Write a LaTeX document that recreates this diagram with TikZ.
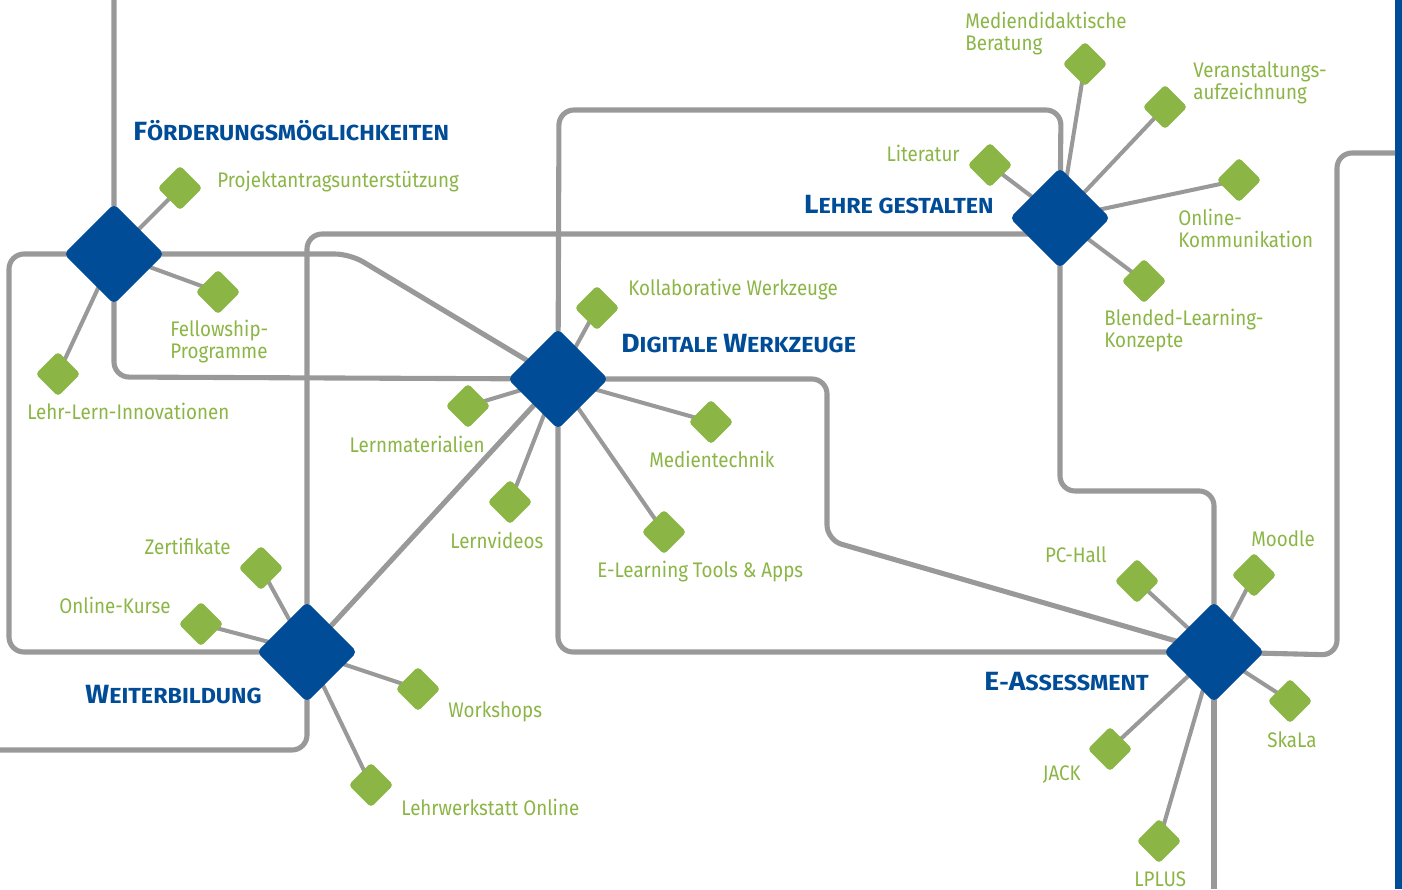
\documentclass[tikz,border=0pt]{standalone}
\usepackage{fontspec}
\setmainfont[FakeStretch=0.89]{Fira Sans}
\newfontfamily\ttlfamily[FakeStretch=1.07]{Fira Sans}
\usepackage{tikz}
\usetikzlibrary{positioning}
\definecolor{dblue}{RGB}{0, 76, 151}
\definecolor{lgreen}{RGB}{139, 181, 69}
\definecolor{lgray}{RGB}{153, 153, 153}
\tikzset{hub/.style = {fill = dblue, rectangle, rotate = 45, inner sep = 0,
                       minimum size = 1.42cm, rounded corners = 3pt}}
\tikzset{leaf/.style = {fill = lgreen, rectangle, rotate = 45, inner sep = 0,
                        minimum size = 0.63cm, rounded corners = 2pt}}
\tikzset{route/.style = {draw = lgray, line width = 2.9pt, rounded corners = 0.3cm}}
\tikzset{spoke/.style = {draw = lgray, line width = 2.3pt}}
\tikzset{lbl/.style = {text = lgreen, inner sep = 0, align = left,
                       font = \fontsize{12}{12}\selectfont}}
\tikzset{ttl/.style = {text = dblue, inner sep = 0,
                       font = \ttlfamily\bfseries\fontsize{12.4}{12.4}\selectfont}}
\newcommand{\bigc}[1]{{\fontsize{15}{15}\selectfont #1}}

\begin{document}
\begin{tikzpicture}[x = 0.02cm, y = -0.02cm]
    \useasboundingbox (0, 0) rectangle (1402, 889);
    \fill [dblue] (1395, 0) rectangle (1402, 889);

    % hubs and leaves (placed first, drawn over the lines below)
    \path (114, 254) coordinate (foerd)
          (558, 379) coordinate (digi)
          (1060, 218) coordinate (lehre)
          (307, 652) coordinate (weiter)
          (1214, 652) coordinate (eass);

    \draw [route] (114, 0) -- (foerd) -- (114, 377) -- (digi) -- (827, 379) -- (827, 540) -- (eass);
    \draw [route] (foerd) -- (9, 254) -- (9, 652) -- (weiter);
    \draw [route] (foerd) -- (350, 254) -- (digi);
    \draw [route] (0, 750) -- (307, 750) -- (weiter) -- (307, 234) -- (1060, 234)
                  -- (1060, 491) -- (1214, 491) -- (eass);
    \draw [route] (digi) -- (559, 110) -- (1061, 110) -- (lehre);
    \draw [route] (digi) -- (558, 652) -- (eass);
    \draw [route] (eass) -- (1337, 655) -- (1337, 153) -- (1395, 153);
    \draw [route] (eass) -- (1214, 889);
    \draw [route] (digi) -- (weiter);

    \foreach \name/\x/\y/\hub in {projekt/180/188/foerd, fellow/218/292/foerd, innov/58/374/foerd,
                                  kollab/597/308/digi, lernmat/468/406/digi, lernvid/510/502/digi,
                                  medtech/711/422/digi, elearn/664/532/digi,
                                  literatur/990/165/lehre, beratung/1085/64/lehre, aufz/1165/107/lehre,
                                  onkomm/1239/180/lehre, blended/1144/281/lehre,
                                  zert/261/568/weiter, onkurse/201/624/weiter, workshops/418/689/weiter,
                                  lehrwerk/371/785/weiter,
                                  pchall/1137/581/eass, moodle/1254/575/eass, skala/1290/701/eass,
                                  jack/1110/749/eass, lplus/1159/841/eass} {
      \draw [spoke] (\hub) -- (\x, \y);
      \node [leaf] (\name) at (\x, \y) {};
    }

    \foreach \hub in {foerd, digi, lehre, weiter, eass} {
      \node [hub] (\hub-box) at (\hub) {};
    }

    % titles
    \node [ttl, anchor = base west] (t-foerd) at (133, 140) {\bigc{F}ÖRDERUNGSMÖGLICHKEITEN};
    \node [ttl, anchor = base east] (t-lehre) at (994, 213) {\bigc{L}EHRE GESTALTEN};
    \node [ttl, anchor = base west] (t-digi) at (621, 352) {\bigc{D}IGITALE \bigc{W}ERKZEUGE};
    \node [ttl, anchor = base east] (t-weiter) at (262, 703) {\bigc{W}EITERBILDUNG};
    \node [ttl, anchor = base east] (t-eass) at (1149, 690) {\bigc{E}-\bigc{A}SSESSMENT};

    % labels (two-line labels sit on the baseline of their last line)
    \node [lbl, anchor = base west] (l-projekt) at (217, 187) {Projektantragsunterstützung};
    \node [lbl, anchor = base west] (l-fellow) at (170, 358) {Fellowship-\\Programme};
    \node [lbl, anchor = base west] (l-innov) at (27, 419) {Lehr-Lern-Innovationen};
    \node [lbl, anchor = base east] (l-lernmat) at (485, 452) {Lernmaterialien};
    \node [lbl, anchor = base west] (l-lernvid) at (450, 548) {Lernvideos};
    \node [lbl, anchor = base west] (l-kollab) at (628, 295) {Kollaborative Werkzeuge};
    \node [lbl, anchor = base west] (l-medtech) at (649, 467) {Medientechnik};
    \node [lbl, anchor = base west] (l-elearn) at (597, 577) {E-Learning Tools \& Apps};
    \node [lbl, anchor = base east] (l-literatur) at (960, 161) {Literatur};
    \node [lbl, anchor = base west] (l-beratung) at (965, 50) {Mediendidaktische\\Beratung};
    \node [lbl, anchor = base west] (l-aufz) at (1193, 99) {Veranstaltungs-\\aufzeichnung};
    \node [lbl, anchor = base west] (l-onkomm) at (1178, 247) {Online-\\Kommunikation};
    \node [lbl, anchor = base west] (l-blended) at (1104, 347) {Blended-Learning-\\Konzepte};
    \node [lbl, anchor = base east] (l-zert) at (231, 554) {Zertifikate};
    \node [lbl, anchor = base east] (l-onkurse) at (171, 613) {Online-Kurse};
    \node [lbl, anchor = base west] (l-workshops) at (448, 717) {Workshops};
    \node [lbl, anchor = base west] (l-lehrwerk) at (401, 815) {Lehrwerkstatt Online};
    \node [lbl, anchor = base east] (l-pchall) at (1107, 562) {PC-Hall};
    \node [lbl, anchor = base west] (l-moodle) at (1251, 546) {Moodle};
    \node [lbl, anchor = base west] (l-skala) at (1267, 747) {SkaLa};
    \node [lbl, anchor = base east] (l-jack) at (1081, 780) {JACK};
    \node [lbl, anchor = base west] (l-lplus) at (1134, 886) {LPLUS};
  \end{tikzpicture}
\end{document}
